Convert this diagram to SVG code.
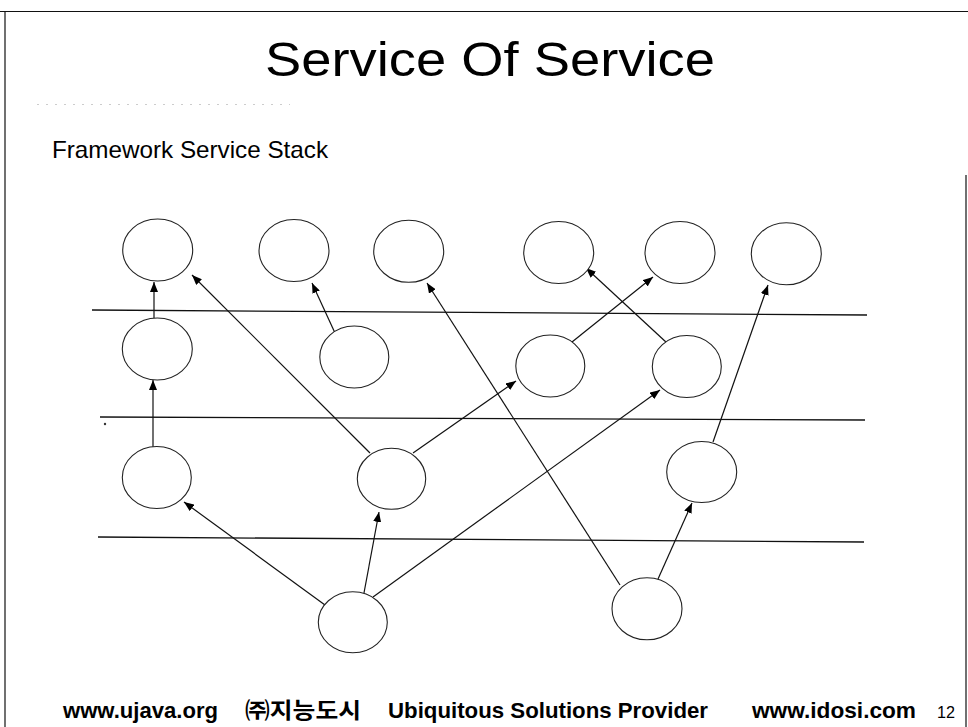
<svg xmlns="http://www.w3.org/2000/svg" width="968" height="727" viewBox="0 0 968 727">
<style>
.node ellipse{fill:#fff;stroke:#222;stroke-width:1.1}
.frame{stroke:#111;stroke-width:1.2;fill:none}
.sep{stroke:#111;stroke-width:1.3}
.conn line{stroke:#111;stroke-width:1.2;marker-end:url(#ah)}
.t{font-family:"Liberation Sans","Noto Sans CJK KR",sans-serif;fill:#000}
</style>
<defs>
<marker id="ah" viewBox="0 0 10 8" refX="10" refY="4" markerWidth="10" markerHeight="8" orient="auto" markerUnits="userSpaceOnUse"><path d="M0,0 L10,4 L0,8 z" fill="#000"/></marker>
</defs>
<rect width="968" height="727" fill="#fff"/>
<g id="frame">
<line class="frame" x1="0" y1="11.5" x2="968" y2="11.5"/>
<line class="frame" x1="5" y1="11" x2="5" y2="727"/>
<line class="frame" x1="966" y1="175" x2="966" y2="727"/>
<line x1="37" y1="104.5" x2="290" y2="104.5" stroke="#ccc" stroke-width="1" stroke-dasharray="2 7"/>
<circle cx="105" cy="424" r="1.2" fill="#333"/>
</g>
<text class="t" x="265" y="76" font-size="48" textLength="450" lengthAdjust="spacingAndGlyphs">Service Of Service</text>
<text class="t" x="52" y="158" font-size="24" textLength="276" lengthAdjust="spacingAndGlyphs">Framework Service Stack</text>
<g id="separators">
<line class="sep" x1="92" y1="310" x2="867" y2="315"/>
<line class="sep" x1="100" y1="417" x2="865" y2="420"/>
<line class="sep" x1="98" y1="537" x2="864" y2="542"/>
</g>
<g id="connectors" class="conn">
<line x1="154" y1="318" x2="154" y2="282"/>
<line x1="153" y1="447" x2="153" y2="380"/>
<line x1="370" y1="453" x2="192" y2="275"/>
<line x1="335" y1="333" x2="312" y2="283"/>
<line x1="620" y1="585" x2="427" y2="283"/>
<line x1="413" y1="453" x2="516" y2="381"/>
<line x1="325" y1="605" x2="184" y2="502"/>
<line x1="364" y1="593" x2="379" y2="512"/>
<line x1="373" y1="597" x2="660" y2="390"/>
<line x1="572" y1="342" x2="653" y2="277"/>
<line x1="667" y1="343" x2="586" y2="268"/>
<line x1="713" y1="442" x2="768" y2="285"/>
<line x1="658" y1="579" x2="692" y2="503"/>
</g>
<g id="t1" class="node"><ellipse cx="157.7" cy="250" rx="35" ry="31"/></g>
<g id="t2" class="node"><ellipse cx="294" cy="250.5" rx="35" ry="31"/></g>
<g id="t3" class="node"><ellipse cx="408.7" cy="251.3" rx="35" ry="31"/></g>
<g id="t4" class="node"><ellipse cx="558.7" cy="252.5" rx="35" ry="31"/></g>
<g id="t5" class="node"><ellipse cx="680" cy="252.5" rx="35" ry="31"/></g>
<g id="t6" class="node"><ellipse cx="786.3" cy="253.8" rx="35" ry="31"/></g>
<g id="m1" class="node"><ellipse cx="157.3" cy="349" rx="35" ry="31"/></g>
<g id="m2" class="node"><ellipse cx="354.3" cy="357" rx="34.5" ry="31"/></g>
<g id="m3" class="node"><ellipse cx="550.3" cy="366" rx="34.5" ry="31"/></g>
<g id="m4" class="node"><ellipse cx="686.8" cy="366.5" rx="34.5" ry="31"/></g>
<g id="l1" class="node"><ellipse cx="156.8" cy="477.5" rx="34.5" ry="31"/></g>
<g id="l2" class="node"><ellipse cx="391.5" cy="478.8" rx="34.2" ry="30.5"/></g>
<g id="l3" class="node"><ellipse cx="701.7" cy="472" rx="35" ry="30.5"/></g>
<g id="b1" class="node"><ellipse cx="352.8" cy="622.3" rx="34.5" ry="30.5"/></g>
<g id="b2" class="node"><ellipse cx="647" cy="608.8" rx="35" ry="31"/></g>
<g id="footer" class="t" font-weight="bold" font-size="22">
<text x="63" y="718" textLength="155" lengthAdjust="spacingAndGlyphs">www.ujava.org</text>
<text x="245" y="718" textLength="116" lengthAdjust="spacingAndGlyphs">㈜지능도시</text>
<text x="388" y="718" textLength="320" lengthAdjust="spacingAndGlyphs">Ubiquitous Solutions Provider</text>
<text x="752" y="718" textLength="164" lengthAdjust="spacingAndGlyphs">www.idosi.com</text>
<text x="937" y="718" font-weight="normal" font-size="16" textLength="18" lengthAdjust="spacingAndGlyphs">12</text>
</g>
</svg>
